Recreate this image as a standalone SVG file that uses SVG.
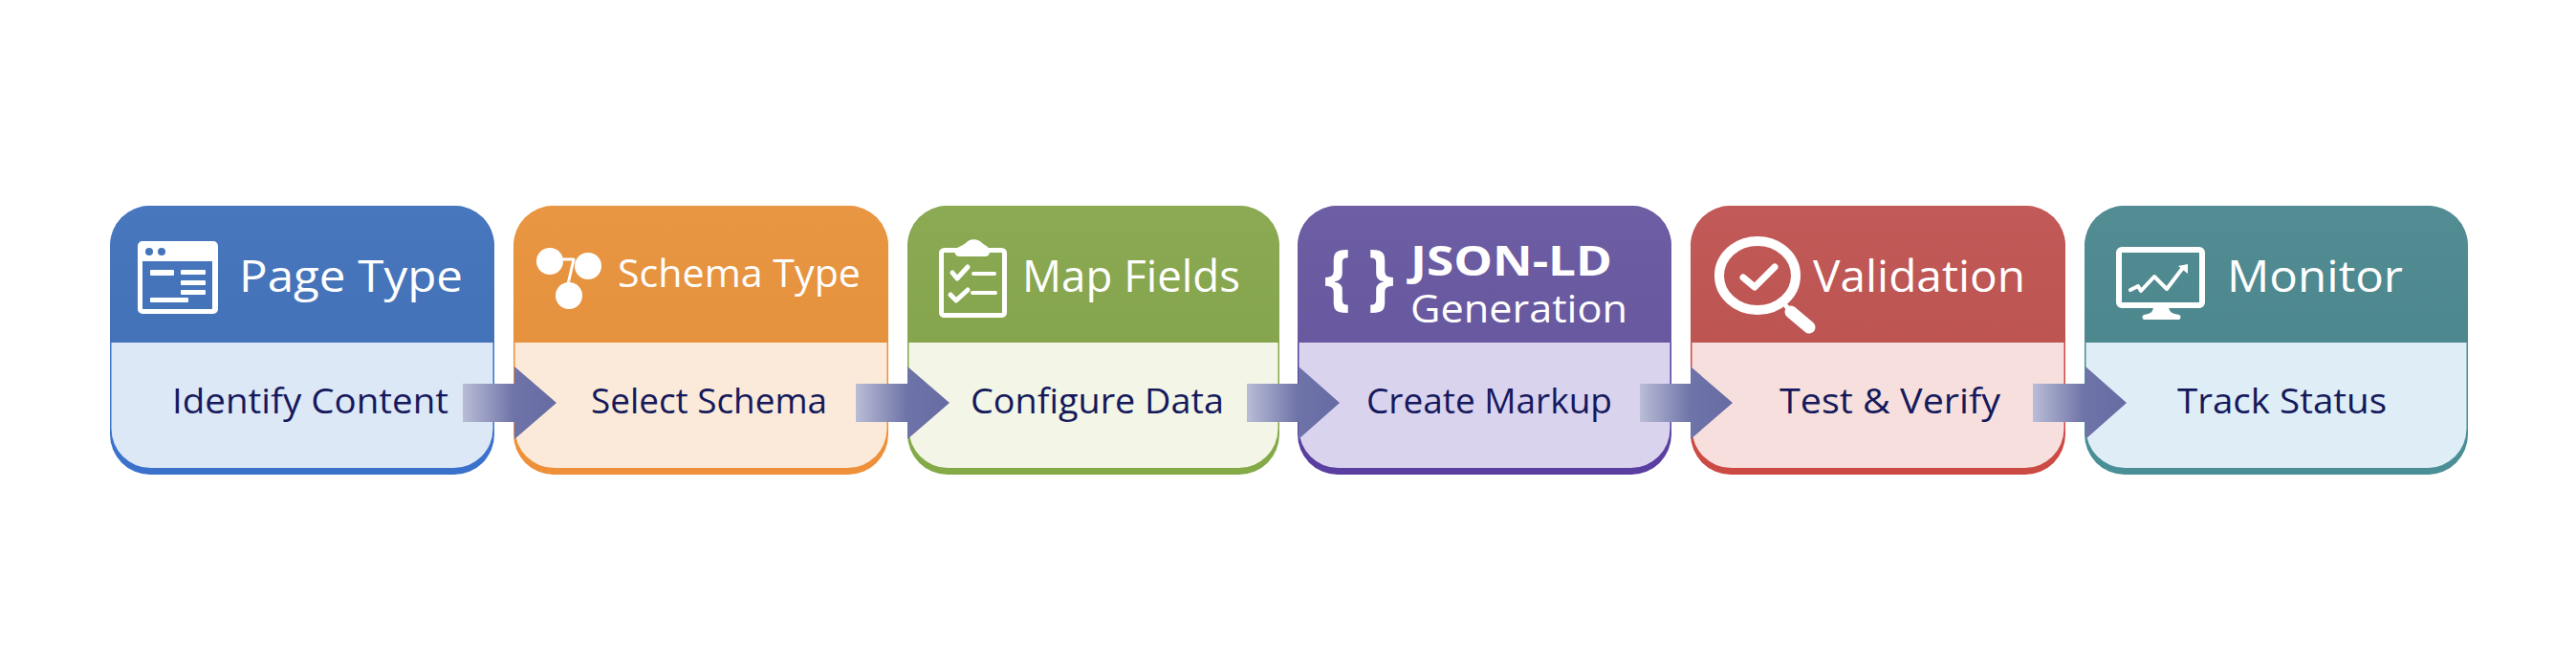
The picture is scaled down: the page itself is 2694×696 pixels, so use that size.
<svg xmlns="http://www.w3.org/2000/svg" width="2694" height="696" viewBox="0 0 2694 696">
<style>
text{font-family:"Open Sans","Noto Sans","Liberation Sans",sans-serif}
.t{fill:#fff;font-weight:500}
.s{fill:#15195c;font-size:37px;font-weight:500}
.ln{fill:none;stroke:#fff;stroke-linecap:round;stroke-linejoin:round}
.w{fill:#fff}
.arrow{fill:url(#ag)}
</style>
<defs>
<linearGradient id="ag" x1="0" x2="1" y1="0" y2="0"><stop offset="0" stop-color="#b9bdd6"/><stop offset=".55" stop-color="#6e73a8"/><stop offset="1" stop-color="#666ba3"/></linearGradient>
<linearGradient id="sheen" x1="0" x2="0" y1="0" y2="1"><stop offset="0" stop-color="#fff" stop-opacity=".025"/><stop offset="1" stop-color="#000" stop-opacity=".015"/></linearGradient>
</defs>
<rect width="2694" height="696" fill="#fff"/>

<g id="node-page-type">
<rect x="115" y="215" width="402" height="281" rx="42" fill="#3a72cb"/>
<path d="M115 358V257A42 42 0 0 1 157 215H475A42 42 0 0 1 517 257V358Z" fill="#4474bc"/>
<path d="M115 358V257A42 42 0 0 1 157 215H475A42 42 0 0 1 517 257V358Z" fill="url(#sheen)"/>
<path d="M116.500 358H515.500V448A41 41 0 0 1 474.500 489H157.500A41 41 0 0 1 116.500 448Z" fill="#dde8f7"/>
<path class="w" fill-rule="evenodd" d="M149 252H223A5 5 0 0 1 228 257V323A5 5 0 0 1 223 328H149A5 5 0 0 1 144 323V257A5 5 0 0 1 149 252ZM149 273V323H222V273Z"/>
<circle cx="156" cy="263" r="4" fill="#4474bc"/><circle cx="169" cy="263" r="4" fill="#4474bc"/>
<rect class="w" x="157" y="282" width="25" height="6" rx="1"/><rect class="w" x="189" y="282" width="26" height="5" rx="1"/><rect class="w" x="189" y="293" width="26" height="5" rx="1"/><rect class="w" x="189" y="303" width="26" height="5" rx="1"/><rect class="w" x="157" y="311" width="40" height="5" rx="1"/>
<text class="t" x="250" y="305" font-size="46" textLength="234" lengthAdjust="spacingAndGlyphs">Page Type</text>
<text class="s" x="180" y="432" textLength="289" lengthAdjust="spacingAndGlyphs">Identify Content</text>
</g>

<g id="node-schema-type">
<rect x="537" y="215" width="392" height="281" rx="42" fill="#ee9039"/>
<path d="M537 358V257A42 42 0 0 1 579 215H887A42 42 0 0 1 929 257V358Z" fill="#e9943f"/>
<path d="M537 358V257A42 42 0 0 1 579 215H887A42 42 0 0 1 929 257V358Z" fill="url(#sheen)"/>
<path d="M538.500 358H927.500V448A41 41 0 0 1 886.500 489H579.500A41 41 0 0 1 538.500 448Z" fill="#fbead9"/>
<circle class="w" cx="575" cy="273" r="14"/><circle class="w" cx="615" cy="278" r="14"/><circle class="w" cx="595" cy="309" r="14"/>
<path class="ln" stroke-width="3" d="M589 271H600L594 297"/>
<text class="t" x="646" y="300" font-size="41" textLength="254" lengthAdjust="spacingAndGlyphs">Schema Type</text>
<text class="s" x="618" y="432" textLength="247" lengthAdjust="spacingAndGlyphs">Select Schema</text>
</g>

<g id="node-map-fields">
<rect x="949" y="215" width="389" height="281" rx="42" fill="#84aa48"/>
<path d="M949 358V257A42 42 0 0 1 991 215H1296A42 42 0 0 1 1338 257V358Z" fill="#88a84f"/>
<path d="M949 358V257A42 42 0 0 1 991 215H1296A42 42 0 0 1 1338 257V358Z" fill="url(#sheen)"/>
<path d="M950.500 358H1336.500V448A41 41 0 0 1 1295.500 489H991.500A41 41 0 0 1 950.500 448Z" fill="#f3f6e6"/>
<rect x="984.500" y="261.500" width="66" height="68" rx="3" fill="none" stroke="#fff" stroke-width="5"/>
<path class="w" d="M998 261C1002 258 1006 257 1010 254C1014 249 1023 249 1027 254C1031 257 1035 258 1035 263C1035 266 1033 268 1030 268H1003C1000 268 998 265 998 261Z"/>
<path class="ln" stroke-width="5" d="M996 285L1001 291L1012 279M994 308L1000 314L1012 303"/>
<path class="ln" stroke-width="4" d="M1018 286H1040M1017 306H1041"/>
<text class="t" x="1069" y="305" font-size="46" textLength="228" lengthAdjust="spacingAndGlyphs">Map Fields</text>
<text class="s" x="1015" y="432" textLength="265" lengthAdjust="spacingAndGlyphs">Configure Data</text>
</g>

<g id="node-json-ld">
<rect x="1357" y="215" width="391" height="281" rx="42" fill="#5a3fa0"/>
<path d="M1357 358V257A42 42 0 0 1 1399 215H1706A42 42 0 0 1 1748 257V358Z" fill="#6a5aa2"/>
<path d="M1357 358V257A42 42 0 0 1 1399 215H1706A42 42 0 0 1 1748 257V358Z" fill="url(#sheen)"/>
<path d="M1358.500 358H1746.500V448A41 41 0 0 1 1705.500 489H1399.500A41 41 0 0 1 1358.500 448Z" fill="#d9d3ee"/>
<text class="t" x="1385" y="315" font-size="75" textLength="73" lengthAdjust="spacingAndGlyphs" style="font-weight:700">{ }</text>
<text class="t" x="1475" y="288" font-size="43" textLength="211" lengthAdjust="spacingAndGlyphs" style="font-weight:700">JSON-LD</text>
<text class="t" x="1475" y="337" font-size="41" textLength="227" lengthAdjust="spacingAndGlyphs">Generation</text>
<text class="s" x="1429" y="432" textLength="257" lengthAdjust="spacingAndGlyphs">Create Markup</text>
</g>

<g id="node-validation">
<rect x="1768" y="215" width="392" height="281" rx="42" fill="#cc4a44"/>
<path d="M1768 358V257A42 42 0 0 1 1810 215H2118A42 42 0 0 1 2160 257V358Z" fill="#c05654"/>
<path d="M1768 358V257A42 42 0 0 1 1810 215H2118A42 42 0 0 1 2160 257V358Z" fill="url(#sheen)"/>
<path d="M1769.500 358H2158.500V448A41 41 0 0 1 2117.500 489H1810.500A41 41 0 0 1 1769.500 448Z" fill="#f6dfdd"/>
<ellipse cx="1838" cy="288" rx="40" ry="36" fill="none" stroke="#fff" stroke-width="10"/>
<path class="ln" stroke-width="7" d="M1823 290L1835 300L1856 279"/>
<path class="ln" stroke-width="5" d="M1868 320L1876 328"/>
<path class="ln" stroke-width="13" d="M1873 326L1892 342"/>
<text class="t" x="1896" y="305" font-size="46" textLength="222" lengthAdjust="spacingAndGlyphs">Validation</text>
<text class="s" x="1861" y="432" textLength="231" lengthAdjust="spacingAndGlyphs">Test &amp; Verify</text>
</g>

<g id="node-monitor">
<rect x="2180" y="215" width="401" height="281" rx="42" fill="#4a8f96"/>
<path d="M2180 358V257A42 42 0 0 1 2222 215H2539A42 42 0 0 1 2581 257V358Z" fill="#4f8a91"/>
<path d="M2180 358V257A42 42 0 0 1 2222 215H2539A42 42 0 0 1 2581 257V358Z" fill="url(#sheen)"/>
<path d="M2181.500 358H2579.500V448A41 41 0 0 1 2538.500 489H2222.500A41 41 0 0 1 2181.500 448Z" fill="#deedf6"/>
<rect x="2216" y="261" width="87" height="58" rx="3" fill="none" stroke="#fff" stroke-width="6"/>
<path class="w" d="M2252 320H2268C2268 326 2272 328 2279 329C2281 330 2281 333 2279 334H2242C2240 333 2240 330 2242 329C2249 328 2252 326 2252 320Z"/>
<path class="ln" stroke-width="4" d="M2228 303L2236 299L2239 304L2253 289L2266 302L2282 281"/>
<path class="w" d="M2278 278L2288 276L2288 286Z"/>
<text class="t" x="2329" y="305" font-size="46" textLength="184" lengthAdjust="spacingAndGlyphs">Monitor</text>
<text class="s" x="2277" y="432" textLength="219" lengthAdjust="spacingAndGlyphs">Track Status</text>
</g>

<g id="connectors">
<path class="arrow" d="M484 401H538V383L582 421L538 459V441H484Z"/>
<path class="arrow" d="M895 401H949V383L993 421L949 459V441H895Z"/>
<path class="arrow" d="M1304 401H1358V383L1401 421L1358 459V441H1304Z"/>
<path class="arrow" d="M1715 401H1768V383L1812 421L1768 459V441H1715Z"/>
<path class="arrow" d="M2126 401H2181V383L2224 421L2181 459V441H2126Z"/>
</g>
</svg>
